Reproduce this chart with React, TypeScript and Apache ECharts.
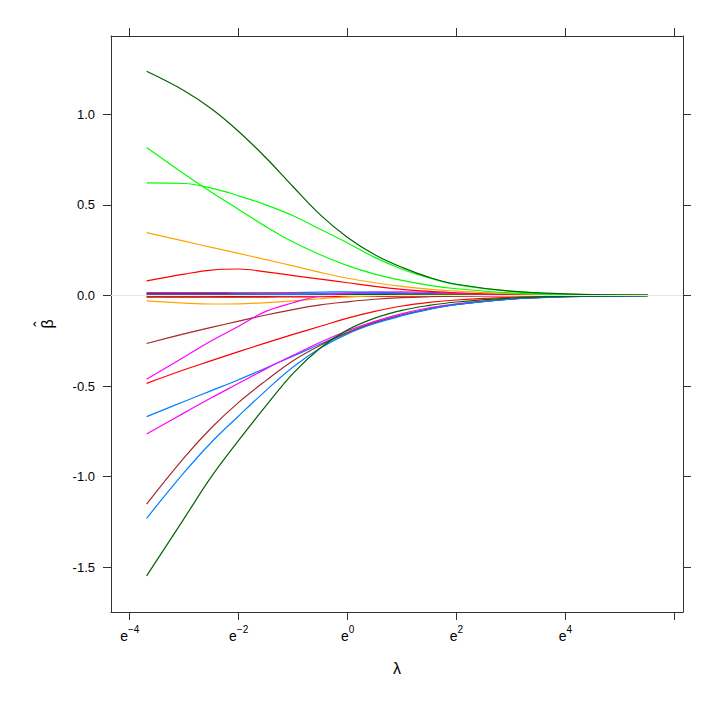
import React, { useEffect, useRef } from "react";
import * as echarts from "echarts";

// log(lambda) grid the coefficients were read at
const logLambda = [-3.69, -3, -2.5, -2, -1.5, -1, -0.5, 0, 0.5, 1, 1.5, 2, 3, 4, 5.51];

// big coefficients
const dgTop = [1.237, 1.13, 1.03, 0.905, 0.76, 0.6, 0.445, 0.32, 0.225, 0.155, 0.1, 0.062, 0.024, 0.009, 0.002];
const greenA = [0.816, 0.67, 0.57, 0.475, 0.38, 0.295, 0.225, 0.165, 0.118, 0.083, 0.056, 0.037, 0.014, 0.005, 0.001];
const greenB = [0.621, 0.618, 0.592, 0.55, 0.5, 0.44, 0.365, 0.29, 0.21, 0.145, 0.097, 0.06, 0.023, 0.008, 0.002];
const orangeA = [0.347, 0.3, 0.265, 0.232, 0.198, 0.163, 0.127, 0.095, 0.07, 0.05, 0.035, 0.024, 0.01, 0.004, 0.001];
const redA = [0.081, 0.118, 0.14, 0.146, 0.13, 0.11, 0.09, 0.07, 0.05, 0.034, 0.023, 0.015, 0.006, 0.002, 0.0005];
const brownA = [-0.265, -0.212, -0.176, -0.142, -0.108, -0.078, -0.052, -0.035, -0.021, -0.012, -0.007, -0.004, -0.0015, -0.0005, 0];
const magentaA = [-0.462, -0.34, -0.25, -0.17, -0.088, -0.04, -0.003, 0.013, 0.019, 0.02, 0.017, 0.012, 0.005, 0.002, 0.0003];
const redB = [-0.485, -0.41, -0.36, -0.31, -0.262, -0.215, -0.17, -0.125, -0.088, -0.058, -0.038, -0.025, -0.01, -0.004, -0.001];
const blueA = [-0.669, -0.585, -0.525, -0.465, -0.4, -0.335, -0.268, -0.205, -0.15, -0.108, -0.074, -0.05, -0.02, -0.007, -0.0015];
const magentaB = [-0.765, -0.648, -0.565, -0.485, -0.405, -0.33, -0.258, -0.195, -0.143, -0.1, -0.068, -0.046, -0.018, -0.006, -0.0012];
const brownB = [-1.151, -0.895, -0.73, -0.59, -0.47, -0.36, -0.275, -0.205, -0.15, -0.108, -0.075, -0.05, -0.02, -0.007, -0.0015];
const blueB = [-1.23, -0.977, -0.81, -0.665, -0.525, -0.395, -0.29, -0.212, -0.155, -0.112, -0.077, -0.051, -0.02, -0.007, -0.0015];
const dgBottom = [-1.548, -1.23, -1.0, -0.8, -0.61, -0.43, -0.29, -0.19, -0.125, -0.082, -0.055, -0.036, -0.014, -0.005, -0.001];
const orangeB = [-0.03, -0.042, -0.047, -0.046, -0.04, -0.03, -0.018, -0.008, -0.002, 0.001, 0.001, 0.001, 0.0005, 0, 0];

// the bunch that stays near zero
const small1 = [0.016, 0.016, 0.016, 0.015, 0.015, 0.014, 0.013, 0.011, 0.009, 0.007, 0.005, 0.003, 0.001, 0.0005, 0];
const small2 = [0.012, 0.012, 0.012, 0.013, 0.014, 0.016, 0.019, 0.02, 0.018, 0.014, 0.01, 0.007, 0.003, 0.001, 0];
const small3 = [0.009, 0.009, 0.009, 0.008, 0.008, 0.008, 0.008, 0.008, 0.007, 0.006, 0.005, 0.003, 0.001, 0.0005, 0];
const small4 = [0.006, 0.006, 0.005, 0.005, 0.004, 0.004, 0.004, 0.004, 0.004, 0.003, 0.002, 0.002, 0.001, 0, 0];
const small5 = [0.004, 0.004, 0.004, 0.004, 0.004, 0.005, 0.006, 0.006, 0.006, 0.005, 0.004, 0.003, 0.001, 0, 0];
const small6 = [-0.007, -0.007, -0.007, -0.006, -0.005, -0.003, -0.001, 0.002, 0.003, 0.003, 0.003, 0.002, 0.001, 0, 0];
const small7 = [0.002, 0.002, 0.002, 0.003, 0.004, 0.006, 0.009, 0.011, 0.011, 0.009, 0.007, 0.005, 0.002, 0.001, 0];
const small8 = [-0.003, -0.003, -0.003, -0.003, -0.002, -0.001, 0.001, 0.003, 0.005, 0.006, 0.006, 0.005, 0.002, 0.001, 0];
const small9 = [0.001, 0.001, 0.001, 0.001, 0.001, 0.002, 0.003, 0.004, 0.004, 0.004, 0.003, 0.002, 0.001, 0, 0];
const small10 = [-0.01, -0.01, -0.01, -0.01, -0.009, -0.008, -0.007, -0.006, -0.005, -0.004, -0.003, -0.002, -0.001, 0, 0];

// ticks
const xTicks = [-4, -2, 0, 2, 4, 6];
const xLabels = [-4, -2, 0, 2, 4];
const yTicks = [-1.5, -1, -0.5, 0, 0.5, 1];

// lattice superpose colours
const BLUE = "#0080ff";
const MAGENTA = "#ff00ff";
const DKGREEN = "#006400";
const RED = "#ff0000";
const ORANGE = "#ffa500";
const GREEN = "#00ff00";
const BROWN = "#a52a2a";

const paths = [
  { color: BLUE, v: small2 },
  { color: MAGENTA, v: small1 },
  { color: DKGREEN, v: small3 },
  { color: RED, v: small6 },
  { color: ORANGE, v: small9 },
  { color: GREEN, v: small5 },
  { color: BROWN, v: small4 },
  { color: BLUE, v: small7 },
  { color: DKGREEN, v: small8 },
  { color: RED, v: small10 },
  { color: ORANGE, v: orangeB },
  { color: BROWN, v: brownA },
  { color: MAGENTA, v: magentaA },
  { color: RED, v: redB },
  { color: BLUE, v: blueA },
  { color: MAGENTA, v: magentaB },
  { color: BROWN, v: brownB },
  { color: BLUE, v: blueB },
  { color: DKGREEN, v: dgBottom },
  { color: RED, v: redA },
  { color: ORANGE, v: orangeA },
  { color: GREEN, v: greenB },
  { color: GREEN, v: greenA },
  { color: DKGREEN, v: dgTop },
];

const X_MIN = -4.344;
const X_MAX = 6.16;
const Y_MIN = -1.747;
const Y_MAX = 1.432;
const AXIS = "#333333";
const FONT = "Liberation Sans";

const App = () => {
  const ref = useRef<HTMLDivElement>(null);

  useEffect(() => {
    document.body.style.margin = "0";
    const chart = echarts.init(ref.current, null, { renderer: "svg" });

    const line = { show: true, onZero: false, lineStyle: { color: AXIS, width: 1 } };
    const tick = (vals: number[]) => ({
      show: true,
      inside: false,
      length: 8,
      customValues: vals,
      lineStyle: { color: AXIS, width: 1 },
    });

    chart.setOption({
      animation: false,
      backgroundColor: "#ffffff",
      grid: { left: 111, top: 36, right: 37, bottom: 89, show: false },
      xAxis: [
        {
          type: "value",
          position: "bottom",
          min: X_MIN,
          max: X_MAX,
          axisLine: line,
          axisTick: tick(xTicks),
          splitLine: { show: false },
          axisLabel: {
            customValues: xLabels,
            margin: 12,
            formatter: (v: number) => `{e|e}{s|${v < 0 ? "\u2212" + -v : v}}`,
            rich: {
              e: { fontSize: 14, fontFamily: FONT, color: "#000", verticalAlign: "bottom" },
              s: {
                fontSize: 10,
                fontFamily: FONT,
                color: "#000",
                verticalAlign: "bottom",
                padding: [0, 0, 9, 0],
              },
            },
          },
          name: "λ",
          nameLocation: "middle",
          nameGap: 48,
          nameTextStyle: { fontSize: 16, fontFamily: FONT, color: "#000" },
        },
        {
          type: "value",
          position: "top",
          min: X_MIN,
          max: X_MAX,
          axisLine: line,
          axisTick: tick(xTicks),
          axisLabel: { show: false },
          splitLine: { show: false },
        },
      ],
      yAxis: [
        {
          type: "value",
          position: "left",
          min: Y_MIN,
          max: Y_MAX,
          axisLine: line,
          axisTick: tick(yTicks),
          splitLine: { show: false },
          axisLabel: {
            customValues: yTicks,
            margin: 16,
            fontSize: 13,
            fontFamily: FONT,
            color: "#000",
            formatter: (v: number) => v.toFixed(1),
          },
        },
        {
          type: "value",
          position: "right",
          min: Y_MIN,
          max: Y_MAX,
          axisLine: line,
          axisTick: tick(yTicks),
          axisLabel: { show: false },
          splitLine: { show: false },
        },
      ],
      // rotated beta-hat title of the y axis
      graphic: [
        {
          type: "text",
          x: 47,
          y: 324,
          rotation: Math.PI / 2,
          style: {
            text: "β",
            font: `16px "${FONT}"`,
            fill: "#000",
            align: "center",
            verticalAlign: "middle",
          },
        },
        {
          type: "text",
          x: 40,
          y: 324,
          rotation: Math.PI / 2,
          style: {
            text: "ˆ",
            font: `16px "${FONT}"`,
            fill: "#000",
            align: "center",
            verticalAlign: "middle",
          },
        },
      ],
      series: [
        {
          type: "line",
          data: [],
          silent: true,
          z: 1,
          markLine: {
            silent: true,
            symbol: "none",
            label: { show: false },
            lineStyle: { color: "#e6e6e6", width: 1, type: "solid" },
            data: [{ yAxis: 0 }],
          },
        },
        ...paths.map((p) => ({
          type: "line",
          xAxisIndex: 0,
          yAxisIndex: 0,
          showSymbol: false,
          smooth: 0.4,
          silent: true,
          z: 2,
          lineStyle: { color: p.color, width: 1.2 },
          itemStyle: { color: p.color },
          data: logLambda.map((x, i) => [x, p.v[i]]),
        })),
      ],
    });

    return () => {
      chart.dispose();
    };
  }, []);

  return <div ref={ref} style={{ width: 720, height: 701 }}></div>;
};

export default App;
